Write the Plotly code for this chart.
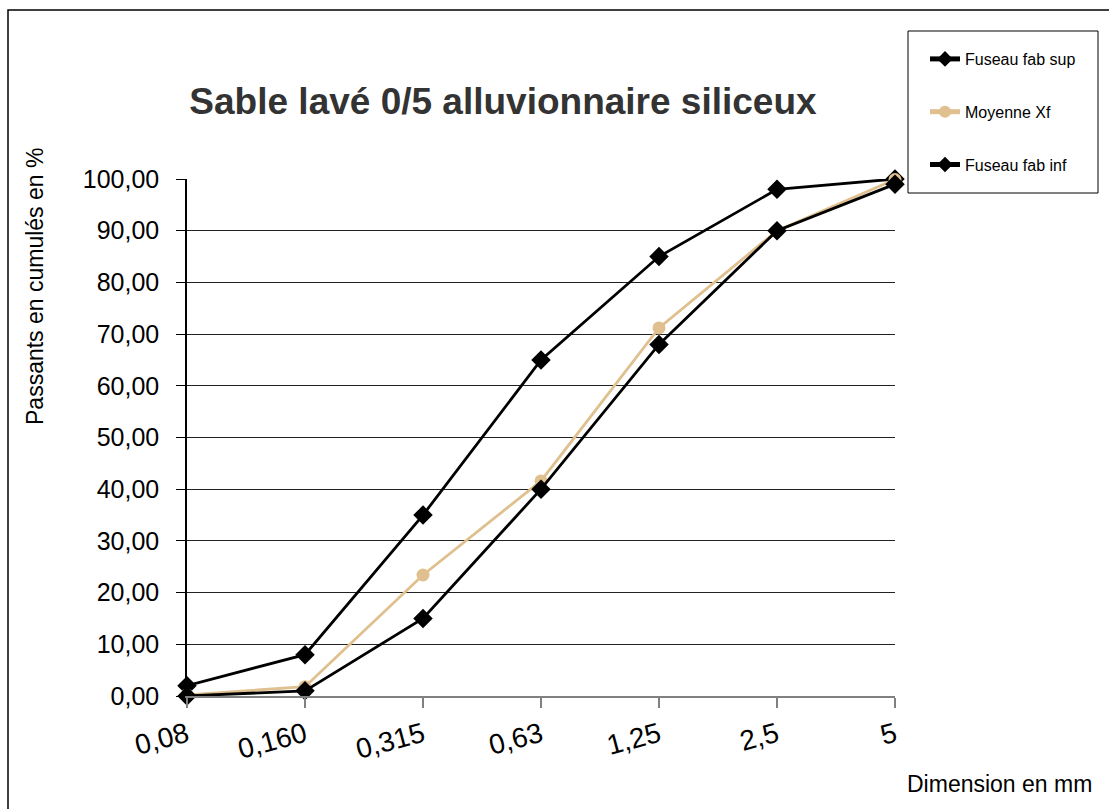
import plotly.graph_objects as go

categories = ["0,08", "0,160", "0,315", "0,63", "1,25", "2,5", "5"]
fuseau_sup = [2, 8, 35, 65, 85, 98, 100]
moyenne_xf = [0.2, 1.8, 23.4, 41.6, 71.2, 90, 99.9]
fuseau_inf = [0, 1, 15, 40, 68, 90, 99]
y_ticks = [0, 10, 20, 30, 40, 50, 60, 70, 80, 90, 100]

FONT = "Liberation Sans, Arial, sans-serif"
TAN = "#DFC08E"

fig = go.Figure()
x_idx = list(range(len(categories)))

fig.add_trace(go.Scatter(
    x=x_idx, y=fuseau_sup, name="Fuseau fab sup", mode="lines+markers",
    line=dict(color="black", width=2.8),
    marker=dict(symbol="diamond", size=15, color="black"),
    legendgroup="a", cliponaxis=False))
fig.add_trace(go.Scatter(
    x=x_idx, y=moyenne_xf, name="Moyenne Xf", mode="lines+markers",
    line=dict(color=TAN, width=2.8),
    marker=dict(symbol="circle", size=13, color=TAN),
    legendgroup="b", cliponaxis=False))
fig.add_trace(go.Scatter(
    x=x_idx, y=fuseau_inf, name="Fuseau fab inf", mode="lines+markers",
    line=dict(color="black", width=2.8),
    marker=dict(symbol="diamond", size=15, color="black"),
    legendgroup="c", cliponaxis=False))

fig.update_layout(
    width=1109, height=809,
    margin=dict(l=187, r=214, t=179, b=113, autoexpand=False),
    paper_bgcolor="white", plot_bgcolor="white",
    separators=",.",
    font=dict(family=FONT, color="black"),
    title=dict(text="<b>Sable lavé 0/5 alluvionnaire siliceux</b>",
               font=dict(family=FONT, size=37, color="#333333"),
               x=(503 - 187) / 708, xref="paper", xanchor="center",
               y=1 - 101 / 809, yref="container", yanchor="middle"),
    legend=dict(x=(925 - 187) / 708, y=(696 - 42) / 517, xanchor="left", yanchor="top",
                borderwidth=0, bgcolor="rgba(0,0,0,0)",
                font=dict(family=FONT, size=16, color="black"),
                itemsizing="constant",
                traceorder="grouped", tracegroupgap=29, entrywidth=150),
    showlegend=True,
)

fig.update_xaxes(
    range=[0, 6], tickmode="array", tickvals=x_idx, ticktext=categories,
    tickangle=-15, tickfont=dict(family=FONT, size=28, color="black"),
    showline=True, linecolor="#808080", linewidth=1.5,
    ticks="outside", ticklen=10, tickcolor="#808080", tickwidth=1.5,
    showgrid=False, zeroline=False, fixedrange=True,
)
fig.update_yaxes(
    range=[0, 100], tickmode="array", tickvals=y_ticks, tickformat=".2f",
    tickfont=dict(family=FONT, size=25, color="black"),
    showline=True, linecolor="black", linewidth=1.5,
    ticks="outside", ticklen=9, tickcolor="black", tickwidth=1,
    ticklabelstandoff=12,
    showgrid=True, gridcolor="#222222", gridwidth=1, zeroline=False, fixedrange=True,
)

# Outer chart border
fig.add_shape(type="rect", xref="paper", yref="paper",
              x0=(8 - 187) / 708, x1=(1120 - 187) / 708,
              y0=(696 - 820) / 517, y1=(696 - 10) / 517,
              line=dict(color="black", width=1.5), fillcolor="rgba(0,0,0,0)", layer="below")
# Legend box
fig.add_shape(type="rect", xref="paper", yref="paper",
              x0=(908 - 187) / 708, x1=(1098 - 187) / 708,
              y0=(696 - 193) / 517, y1=(696 - 31) / 517,
              line=dict(color="black", width=1), fillcolor="white", layer="below")

fig.add_annotation(text="Passants en cumulés en %", xref="paper", yref="paper",
                   x=(35 - 187) / 708, y=(696 - 287) / 517, textangle=-90,
                   showarrow=False, xanchor="center", yanchor="middle",
                   font=dict(family=FONT, size=23, color="black"))
fig.add_annotation(text="Dimension en mm", xref="paper", yref="paper",
                   x=(999 - 187) / 708, y=(696 - 784) / 517,
                   showarrow=False, xanchor="center", yanchor="middle",
                   font=dict(family=FONT, size=23, color="black"))

fig.write_html("out.html", config={"displayModeBar": False},
               post_script="document.body.style.margin='0';")
